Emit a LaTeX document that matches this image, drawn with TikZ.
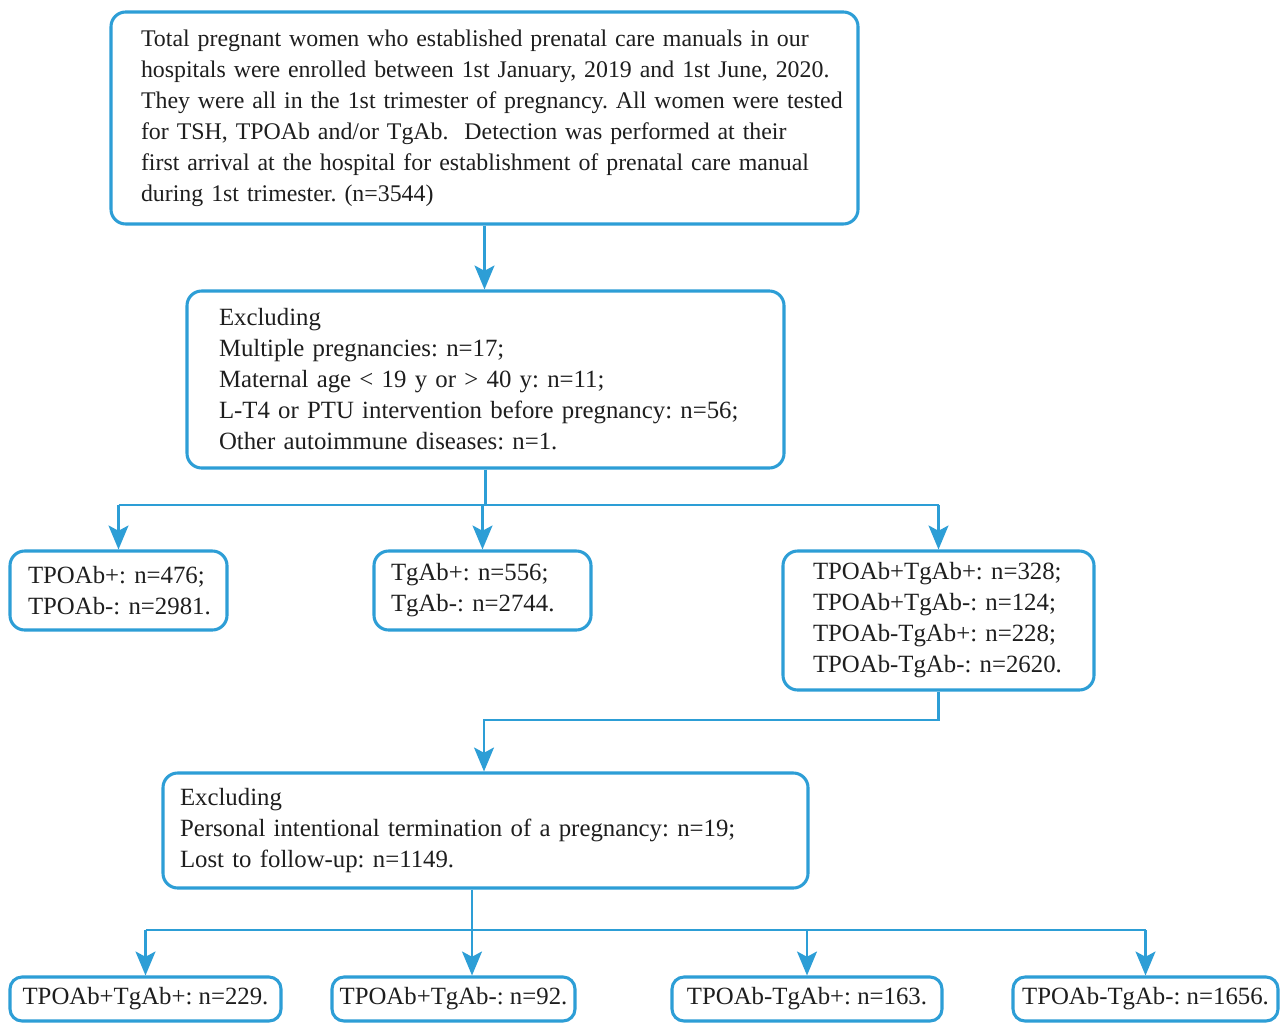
\documentclass[tikz,border=0pt]{standalone}
\usepackage{fontspec}
\setmainfont{Liberation Serif}
\usetikzlibrary{arrows.meta}
\definecolor{flowblue}{RGB}{45,158,214}
\definecolor{txt}{RGB}{30,30,30}
\newcommand\fl[1]{\mbox{#1}}
\begin{document}
\frenchspacing
\begin{tikzpicture}[x=0.75pt,y=-0.75pt,
  box/.style={draw=flowblue, line width=2.3pt, rounded corners=11pt, text=txt,
    font=\fontsize{18.6}{23.25}\selectfont\frenchspacing, inner ysep=0pt},
  lbox/.style={box, align=left},
  sbox/.style={box, align=center, rounded corners=9pt, minimum height=33pt, inner xsep=0pt},
  conn/.style={draw=flowblue, line width=1.6pt},
  arr/.style={conn, -{Stealth[length=18pt,width=15pt,inset=4pt]}}
]
\useasboundingbox (0,0) rectangle (1280,1023);
\fill[white] (0,0) rectangle (1280,1023);

\node[lbox, minimum width=560.25pt, minimum height=159pt, inner xsep=22.5pt, text width=515.25pt,
  font=\fontsize{17.9}{23.25}\selectfont\frenchspacing] (b1) at (484.5,118)
{\fl{Total pregnant women who established prenatal care manuals in our}\\
\fl{hospitals were enrolled between 1st January, 2019 and 1st June, 2020.}\\
\fl{They were all in the 1st trimester of pregnancy. All women were tested}\\
\fl{for TSH, TPOAb and/or TgAb.\ \ Detection was performed at their}\\
\fl{first arrival at the hospital for establishment of prenatal care manual}\\
\fl{during 1st trimester. (n=3544)}};

\node[lbox, minimum width=447.75pt, minimum height=132.75pt, inner xsep=24pt, text width=399.75pt] (b2) at (485.5,379.5)
{\fl{Excluding}\\
\fl{Multiple pregnancies: n=17;}\\
\fl{Maternal age < 19 y or > 40 y: n=11;}\\
\fl{L-T4 or PTU intervention before pregnancy: n=56;}\\
\fl{Other autoimmune diseases: n=1.}};

\node[lbox, minimum width=162.75pt, minimum height=59.25pt, inner xsep=13.5pt, text width=135.75pt] (b3) at (118.5,590.5)
{\fl{TPOAb+: n=476;}\\ \fl{TPOAb-: n=2981.}};

\node[lbox, minimum width=162.75pt, minimum height=59.25pt, inner xsep=12.75pt, text width=137.25pt] (b4) at (482.5,590.5)
{\fl{TgAb+: n=556;}\\ \fl{TgAb-: n=2744.}};

\node[lbox, minimum width=233.25pt, minimum height=104.25pt, inner xsep=22.5pt, text width=188.25pt] (b5) at (938.5,620.5)
{\fl{TPOAb+TgAb+: n=328;}\\ \fl{TPOAb+TgAb-: n=124;}\\ \fl{TPOAb-TgAb+: n=228;}\\ \fl{TPOAb-TgAb-: n=2620.}};

\node[lbox, minimum width=483.75pt, minimum height=86.25pt, inner xsep=12.75pt, text width=458.25pt] (b6) at (485.5,830.5)
{\fl{Excluding}\\
\fl{Personal intentional termination of a pregnancy: n=19;}\\
\fl{Lost to follow-up: n=1149.}};

\node[sbox, minimum width=203.25pt] (b7) at (145.5,999) {TPOAb+TgAb+: n=229.};
\node[sbox, minimum width=182.25pt] (b8) at (453.5,999) {TPOAb+TgAb-: n=92.};
\node[sbox, minimum width=202.5pt] (b9) at (807,999) {TPOAb-TgAb+: n=163.};
\node[sbox, minimum width=198.75pt] (b10) at (1145.5,999) {TPOAb-TgAb-: n=1656.};

\coordinate (j1) at (484,505);
\coordinate (j2) at (484,720);
\coordinate (j3) at (472,930);

\draw[arr] (b1.south) -- (b1.south |- b2.north);

\draw[conn] (b2.south) -- (b2.south |- j1);
\draw[conn] (b3.north |- j1) -- (b5.north |- j1);
\draw[arr] (b3.north |- j1) -- (b3.north);
\draw[arr] (b4.north |- j1) -- (b4.north);
\draw[arr] (b5.north |- j1) -- (b5.north);

\draw[arr] (b5.south) |- (j2) -- (j2 |- b6.north);

\draw[conn] (j3 |- b6.south) -- (j3);
\draw[conn] (b7.north |- j3) -- (b10.north |- j3);
\draw[arr] (b7.north |- j3) -- (b7.north);
\draw[arr] (j3) -- (j3 |- b8.north);
\draw[arr] (b9.north |- j3) -- (b9.north);
\draw[arr] (b10.north |- j3) -- (b10.north);
\end{tikzpicture}
\end{document}
